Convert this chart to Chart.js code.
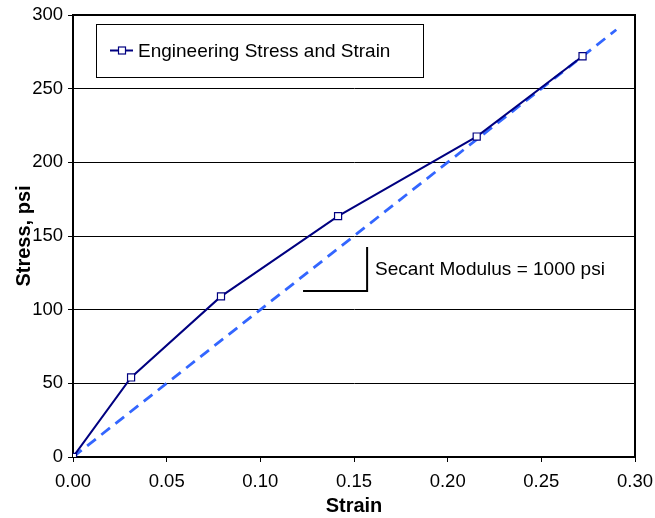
<!DOCTYPE html>
<html><head><meta charset="utf-8">
<script src="https://cdn.jsdelivr.net/npm/chart.js@4/dist/chart.umd.min.js"></script>
<style>html,body{margin:0;padding:0;background:#fff}#wrap{width:655px;height:518px}</style>
</head><body><div id="wrap"><canvas id="c" width="655" height="518"></canvas></div>
<script>
const strain = [0, 0.031, 0.079, 0.1415, 0.2155, 0.272];
const stress = [0, 54, 109, 163.5, 217.5, 272];
const secantStrain = [0, 0.29];
const secantStress = [0, 290];
const markerStrain = [0.1228, 0.157, 0.157];
const markerStress = [112.7, 112.7, 142.5];
const xTicks = [0, 0.05, 0.10, 0.15, 0.20, 0.25, 0.30];
const yTicks = [0, 50, 100, 150, 200, 250, 300];
const seriesLabel = 'Engineering Stress and Strain';
const annotationText = 'Secant Modulus = 1000 psi';
const xTitle = 'Strain';
const yTitle = 'Stress, psi';

const FONT = "'Liberation Sans', Arial, sans-serif";
const NAVY = '#000080';
const DASH = '#3366ff';

const toXY = (xs, ys) => xs.map((x, i) => ({x, y: ys[i]}));

const framePlugin = {
  id: 'frame',
  beforeDatasetsDraw(chart) {
    const {ctx, chartArea: a} = chart;
    ctx.save();
    ctx.strokeStyle = '#000';
    ctx.lineWidth = 2;
    ctx.strokeRect(a.left, a.top, a.right - a.left, a.bottom - a.top);
    ctx.restore();
  },
  afterDraw(chart) {
    const {ctx, chartArea: a, scales} = chart;
    ctx.save();
    // legend box
    const bx = a.left + 23, by = a.top + 9, bw = 327, bh = 53;
    ctx.fillStyle = '#fff';
    ctx.fillRect(bx, by, bw, bh);
    ctx.strokeStyle = '#000';
    ctx.lineWidth = 1;
    ctx.strokeRect(bx + 0.5, by + 0.5, bw, bh);
    const my = by + bh / 2;
    ctx.strokeStyle = NAVY;
    ctx.lineWidth = 2;
    ctx.beginPath();
    ctx.moveTo(bx + 14, my);
    ctx.lineTo(bx + 37, my);
    ctx.stroke();
    ctx.fillStyle = '#fff';
    ctx.lineWidth = 1.2;
    ctx.fillRect(bx + 22.5, my - 3.5, 7, 7);
    ctx.strokeRect(bx + 22.5, my - 3.5, 7, 7);
    ctx.fillStyle = '#000';
    ctx.font = '19px ' + FONT;
    ctx.textBaseline = 'middle';
    ctx.textAlign = 'left';
    ctx.fillText(seriesLabel, bx + 42, my + 1);
    // annotation text
    const tx = scales.x.getPixelForValue(markerStrain[2]) + 8;
    const ty = scales.y.getPixelForValue((markerStress[0] + markerStress[2]) / 2);
    ctx.fillText(annotationText, tx, ty + 1);
    ctx.restore();
  }
};

new Chart(document.getElementById('c'), {
  type: 'scatter',
  data: {
    datasets: [
      {
        label: seriesLabel,
        data: toXY(strain, stress),
        showLine: true,
        borderColor: NAVY,
        borderWidth: 2,
        pointStyle: 'rect',
        pointRadius: 5,
        pointBackgroundColor: '#fff',
        pointBorderColor: NAVY,
        pointBorderWidth: 1.2,
        order: 0
      },
      {
        label: 'Secant',
        data: toXY(secantStrain, secantStress),
        showLine: true,
        borderColor: DASH,
        borderWidth: 2.8,
        borderDash: [11, 7],
        pointRadius: 0,
        order: 1
      },
      {
        label: 'Marker',
        data: toXY(markerStrain, markerStress),
        showLine: true,
        borderColor: '#000',
        borderWidth: 2,
        pointRadius: 0,
        order: 2
      }
    ]
  },
  options: {
    responsive: false,
    devicePixelRatio: 1,
    animation: false,
    layout: {padding: {left: 0, top: 15, right: 20, bottom: 0}},
    plugins: {legend: {display: false}, tooltip: {enabled: false}},
    scales: {
      x: {
        type: 'linear',
        min: 0, max: 0.30,
        afterBuildTicks(s) { s.ticks = xTicks.map(v => ({value: v})); },
        afterFit(s) { s.height = 61; s.paddingLeft = 0; s.paddingRight = 0; },
        ticks: {
          color: '#000',
          font: {family: FONT, size: 18.5},
          padding: 9,
          maxRotation: 0,
          callback: v => v.toFixed(2)
        },
        grid: {drawOnChartArea: false, drawTicks: true, tickLength: 5, color: '#000', lineWidth: 1},
        border: {display: true, color: '#000', width: 2},
        title: {display: true, text: xTitle, color: '#000', font: {family: FONT, size: 20, weight: 'bold'}, padding: {top: 0, bottom: 0}}
      },
      y: {
        type: 'linear',
        min: 0, max: 300,
        afterBuildTicks(s) { s.ticks = yTicks.map(v => ({value: v})); },
        afterFit(s) { s.width = 73; s.paddingTop = 0; s.paddingBottom = 0; },
        ticks: {
          color: '#000',
          font: {family: FONT, size: 18.5},
          padding: 5,
          callback: v => String(v)
        },
        grid: {drawOnChartArea: true, drawTicks: true, tickLength: 5, color: '#000', lineWidth: 1},
        border: {display: true, color: '#000', width: 2},
        title: {display: true, text: yTitle, color: '#000', font: {family: FONT, size: 20, weight: 'bold'}, padding: {top: 12, bottom: 12}}
      }
    }
  },
  plugins: [framePlugin]
});
</script></body></html>
